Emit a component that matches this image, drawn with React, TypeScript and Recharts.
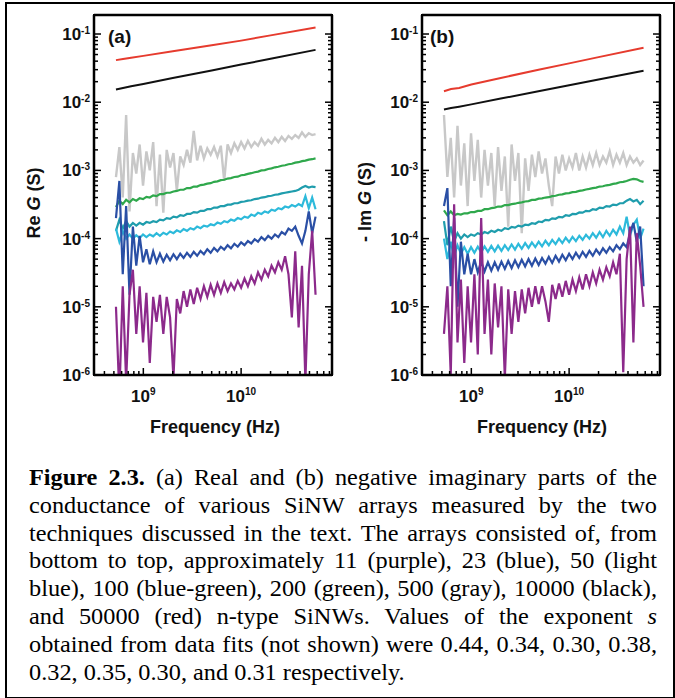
import { Line, LineChart, XAxis, YAxis } from "recharts";

// frequency grid (Hz) shared by the noisy traces
const FREQ = [
  5.25e8, 5.69e8, 6.16e8, 6.67e8, 7.22e8, 7.82e8, 8.47e8, 9.17e8, 9.93e8, 1.075e9,
  1.164e9, 1.261e9, 1.365e9, 1.478e9, 1.601e9, 1.734e9, 1.877e9, 2.033e9, 2.201e9, 2.384e9,
  2.582e9, 2.796e9, 3.027e9, 3.278e9, 3.55e9, 3.845e9, 4.163e9, 4.509e9, 4.882e9, 5.287e9,
  5.726e9, 6.2e9, 6.714e9, 7.271e9, 7.874e9, 8.527e9, 9.234e9, 1.0e10, 1.083e10, 1.173e10,
  1.27e10, 1.375e10, 1.489e10, 1.613e10, 1.746e10, 1.891e10, 2.048e10, 2.218e10, 2.402e10, 2.601e10,
  2.817e10, 3.05e10, 3.303e10, 3.577e10, 3.874e10, 4.195e10, 4.543e10, 4.92e10, 5.328e10, 5.77e10,
];
// coarser grid for the two clean top traces
const FREQ_SMOOTH = [5.25e8, 6.2e8, 7.5e8, 1e9, 2e9, 5e9, 1e10, 2e10, 5.77e10];

// (a) Re G (S)
const RED_A = [0.0414, 0.043, 0.0448, 0.0478, 0.0557, 0.0683, 0.08, 0.0955, 0.125];
const BLACK_A = [0.0154, 0.0162, 0.0171, 0.0185, 0.0226, 0.0292, 0.0356, 0.0433, 0.0585];
const GRAY_A = [
  8e-4, 2.2e-3, 4e-4, 6.5e-3, 2.5e-4, 1.8e-3, 9e-4, 2.4e-3, 6e-4, 1.9e-3,
  1.0e-3, 2.6e-3, 3e-4, 1.7e-3, 2.4e-4, 2.0e-3, 1.1e-3, 1.8e-3, 5e-4, 1.6e-3,
  1.2e-3, 2.0e-3, 1.3e-3, 3.8e-3, 1.4e-3, 2.3e-3, 1.5e-3, 2.1e-3, 1.7e-3, 2.2e-3,
  1.6e-3, 2.3e-3, 7e-4, 2.4e-3, 1.8e-3, 2.5e-3, 2.0e-3, 2.6e-3, 2.1e-3, 2.7e-3,
  2.2e-3, 2.6e-3, 2.3e-3, 2.9e-3, 2.4e-3, 2.8e-3, 2.5e-3, 3.0e-3, 2.6e-3, 3.1e-3,
  2.7e-3, 3.2e-3, 2.9e-3, 3.3e-3, 3.0e-3, 3.6e-3, 3.1e-3, 3.5e-3, 3.3e-3, 3.4e-3,
];
const GREEN_A = [
  2.9e-4, 3.6e-4, 3.2e-4, 3.7e-4, 3.4e-4, 3.8e-4, 3.6e-4, 3.9e-4, 3.8e-4, 4.1e-4,
  4.0e-4, 4.3e-4, 4.2e-4, 4.5e-4, 4.5e-4, 4.7e-4, 4.7e-4, 4.9e-4, 5.0e-4, 5.2e-4,
  5.2e-4, 5.5e-4, 5.5e-4, 5.8e-4, 5.8e-4, 6.1e-4, 6.2e-4, 6.4e-4, 6.5e-4, 6.8e-4,
  6.9e-4, 7.2e-4, 7.3e-4, 7.6e-4, 7.7e-4, 8.0e-4, 8.1e-4, 8.5e-4, 8.6e-4, 8.9e-4,
  9.1e-4, 9.4e-4, 9.6e-4, 1.0e-3, 1.01e-3, 1.05e-3, 1.07e-3, 1.11e-3, 1.13e-3, 1.17e-3,
  1.19e-3, 1.23e-3, 1.25e-3, 1.3e-3, 1.32e-3, 1.37e-3, 1.39e-3, 1.44e-3, 1.46e-3, 1.5e-3,
];
const TEAL_A = [
  1.3e-4, 1.9e-4, 1.4e-4, 1.8e-4, 1.5e-4, 1.7e-4, 1.55e-4, 1.7e-4, 1.6e-4, 1.75e-4,
  1.7e-4, 1.8e-4, 1.75e-4, 1.9e-4, 1.85e-4, 2.0e-4, 1.95e-4, 2.1e-4, 2.05e-4, 2.2e-4,
  2.15e-4, 2.3e-4, 2.3e-4, 2.45e-4, 2.4e-4, 2.55e-4, 2.55e-4, 2.7e-4, 2.7e-4, 2.85e-4,
  2.85e-4, 3.0e-4, 3.0e-4, 3.15e-4, 3.15e-4, 3.3e-4, 3.3e-4, 3.45e-4, 3.5e-4, 3.6e-4,
  3.65e-4, 3.8e-4, 3.85e-4, 4.0e-4, 4.05e-4, 4.2e-4, 4.25e-4, 4.4e-4, 4.45e-4, 4.6e-4,
  4.7e-4, 4.8e-4, 4.9e-4, 5.0e-4, 5.2e-4, 5.6e-4, 5.9e-4, 5.6e-4, 5.8e-4, 5.7e-4,
];
const CYAN_A = [
  1.4e-4, 9e-5, 1.3e-4, 1.0e-4, 1.15e-4, 1.0e-4, 1.12e-4, 1.02e-4, 1.15e-4, 1.05e-4,
  1.15e-4, 1.08e-4, 1.2e-4, 1.1e-4, 1.22e-4, 1.15e-4, 1.27e-4, 1.2e-4, 1.32e-4, 1.25e-4,
  1.38e-4, 1.3e-4, 1.42e-4, 1.36e-4, 1.5e-4, 1.42e-4, 1.55e-4, 1.5e-4, 1.62e-4, 1.57e-4,
  1.72e-4, 1.65e-4, 1.8e-4, 1.74e-4, 1.9e-4, 1.83e-4, 2.0e-4, 1.92e-4, 2.1e-4, 2.02e-4,
  2.25e-4, 2.15e-4, 2.4e-4, 2.3e-4, 2.5e-4, 2.4e-4, 2.65e-4, 2.55e-4, 2.8e-4, 2.7e-4,
  2.95e-4, 2.85e-4, 3.1e-4, 2.95e-4, 3.2e-4, 3.0e-4, 4.2e-4, 2.8e-4, 4.0e-4, 2.7e-4,
];
const BLUE_A = [
  2e-4, 7e-4, 3e-5, 3e-4, 1.5e-5, 1.5e-4, 4e-5, 1.1e-4, 4.5e-5, 7e-5,
  4.2e-5, 6.5e-5, 4.5e-5, 6e-5, 4.6e-5, 5.8e-5, 4.8e-5, 5.9e-5, 5e-5, 6e-5,
  5.2e-5, 6.2e-5, 5.4e-5, 6.4e-5, 5.6e-5, 6.6e-5, 5.9e-5, 7e-5, 6.2e-5, 7.3e-5,
  6.5e-5, 7.6e-5, 6.9e-5, 8e-5, 7.2e-5, 8.4e-5, 7.6e-5, 8.8e-5, 8e-5, 9.2e-5,
  8.5e-5, 9.8e-5, 9e-5, 1.05e-4, 9.5e-5, 1.1e-4, 1.0e-4, 1.15e-4, 1.05e-4, 1.25e-4,
  1.15e-4, 1.4e-4, 1.3e-4, 1.5e-4, 1.1e-4, 8.5e-5, 1.3e-4, 2.5e-4, 1.2e-4, 2.1e-4,
];
const PURPLE_A = [
  1e-5, 5e-7, 2e-5, 8e-7, 1.5e-5, 3.5e-5, 4e-6, 2e-5, 3e-6, 1.6e-5,
  1.5e-6, 1.4e-5, 6e-6, 1.5e-5, 4e-6, 1.4e-5, 7e-6, 9e-7, 1.3e-5, 8e-6,
  1.7e-5, 1e-5, 1.8e-5, 1.1e-5, 1.9e-5, 1.3e-5, 2e-5, 1.4e-5, 2.1e-5, 1.5e-5,
  2.2e-5, 1.6e-5, 2.3e-5, 1.7e-5, 2.2e-5, 1.8e-5, 2.4e-5, 1.9e-5, 2.6e-5, 2e-5,
  2.8e-5, 2.2e-5, 3.2e-5, 2.5e-5, 3.5e-5, 2.8e-5, 4e-5, 3.2e-5, 4.5e-5, 3.5e-5,
  5.5e-5, 3e-5, 7e-6, 6.5e-5, 5e-6, 4e-5, 8e-7, 3e-5, 1.3e-4, 1.5e-5,
];

// (b) -Im G (S)
const RED_B = [0.0145, 0.0156, 0.0162, 0.0182, 0.0227, 0.0301, 0.0371, 0.0458, 0.063];
const BLACK_B = [0.0078, 0.0082, 0.0086, 0.0093, 0.0113, 0.0146, 0.0177, 0.0215, 0.0289];
const GRAY_B = [
  6.5e-3, 8e-4, 3e-3, 4e-4, 4.5e-3, 6e-4, 2.5e-3, 3e-4, 3.5e-3, 7e-4,
  2.8e-3, 4e-4, 2e-3, 6e-4, 1.8e-3, 3e-4, 2.2e-3, 5e-4, 1.6e-3, 1.5e-4,
  2.4e-3, 7e-4, 1.8e-3, 1.2e-4, 1.5e-3, 5e-4, 1.7e-3, 8e-4, 1.9e-3, 9e-4,
  1.5e-3, 6e-4, 3e-4, 1.6e-3, 9e-4, 1.7e-3, 1.0e-3, 1.5e-3, 1.1e-3, 1.8e-3,
  1.0e-3, 1.6e-3, 1.1e-3, 1.7e-3, 1.2e-3, 1.8e-3, 1.2e-3, 1.6e-3, 1.3e-3, 1.9e-3,
  1.2e-3, 1.7e-3, 1.3e-3, 1.8e-3, 1.2e-3, 1.6e-3, 1.3e-3, 1.5e-3, 1.2e-3, 1.4e-3,
];
const GREEN_B = [
  2.6e-4, 2.2e-4, 2.5e-4, 2.2e-4, 2.3e-4, 2.25e-4, 2.35e-4, 2.35e-4, 2.45e-4, 2.45e-4,
  2.55e-4, 2.55e-4, 2.7e-4, 2.7e-4, 2.8e-4, 2.85e-4, 2.95e-4, 2.95e-4, 3.1e-4, 3.1e-4,
  3.2e-4, 3.25e-4, 3.35e-4, 3.4e-4, 3.5e-4, 3.55e-4, 3.7e-4, 3.7e-4, 3.85e-4, 3.9e-4,
  4.0e-4, 4.05e-4, 4.2e-4, 4.25e-4, 4.4e-4, 4.45e-4, 4.6e-4, 4.65e-4, 4.8e-4, 4.85e-4,
  5.0e-4, 5.1e-4, 5.25e-4, 5.35e-4, 5.5e-4, 5.6e-4, 5.8e-4, 5.85e-4, 6.05e-4, 6.15e-4,
  6.35e-4, 6.45e-4, 6.7e-4, 6.8e-4, 7.0e-4, 7.3e-4, 7.5e-4, 7.4e-4, 7.0e-4, 6.8e-4,
];
const TEAL_B = [
  1.8e-4, 8e-5, 1.5e-4, 9e-5, 1.2e-4, 1.0e-4, 1.15e-4, 1.05e-4, 1.15e-4, 1.1e-4,
  1.2e-4, 1.15e-4, 1.25e-4, 1.2e-4, 1.3e-4, 1.25e-4, 1.35e-4, 1.3e-4, 1.42e-4, 1.38e-4,
  1.48e-4, 1.45e-4, 1.55e-4, 1.5e-4, 1.6e-4, 1.58e-4, 1.68e-4, 1.65e-4, 1.78e-4, 1.75e-4,
  1.88e-4, 1.85e-4, 1.98e-4, 1.95e-4, 2.08e-4, 2.05e-4, 2.2e-4, 2.15e-4, 2.3e-4, 2.28e-4,
  2.42e-4, 2.4e-4, 2.55e-4, 2.52e-4, 2.7e-4, 2.65e-4, 2.85e-4, 2.8e-4, 3.0e-4, 2.95e-4,
  3.15e-4, 3.1e-4, 3.3e-4, 3.3e-4, 3.6e-4, 3.8e-4, 3.5e-4, 3.7e-4, 3.2e-4, 3.6e-4,
];
const CYAN_B = [
  1e-4, 5e-5, 9e-5, 5.5e-5, 8e-5, 6e-5, 7.5e-5, 6e-5, 7.5e-5, 6.2e-5,
  7.6e-5, 6.3e-5, 7.7e-5, 6.4e-5, 7.8e-5, 6.5e-5, 7.9e-5, 6.6e-5, 8e-5, 6.8e-5,
  8.2e-5, 6.9e-5, 8.4e-5, 7.1e-5, 8.6e-5, 7.3e-5, 8.8e-5, 7.5e-5, 9e-5, 7.7e-5,
  9.3e-5, 8e-5, 9.6e-5, 8.3e-5, 1.0e-4, 8.6e-5, 1.03e-4, 8.9e-5, 1.06e-4, 9.2e-5,
  1.1e-4, 9.6e-5, 1.14e-4, 1.0e-4, 1.2e-4, 1.03e-4, 1.25e-4, 1.05e-4, 1.3e-4, 1.1e-4,
  1.35e-4, 1.15e-4, 1.5e-4, 1.2e-4, 2.1e-4, 1.1e-4, 1.6e-4, 1.9e-4, 1.0e-4, 1.4e-4,
];
const BLUE_B = [
  3e-4, 5.5e-4, 2e-5, 2e-4, 1e-5, 9e-5, 3e-5, 6e-5, 3e-5, 5e-5,
  3.2e-5, 4.6e-5, 3.3e-5, 4.5e-5, 3.4e-5, 4.5e-5, 3.5e-5, 4.6e-5, 3.6e-5, 4.7e-5,
  3.7e-5, 4.8e-5, 3.8e-5, 4.9e-5, 3.9e-5, 5e-5, 4e-5, 5.1e-5, 4.1e-5, 5.2e-5,
  4.3e-5, 5.4e-5, 4.4e-5, 5.6e-5, 4.6e-5, 5.8e-5, 4.8e-5, 6e-5, 5e-5, 6.2e-5,
  5.2e-5, 6.4e-5, 5.4e-5, 6.6e-5, 5.6e-5, 6.9e-5, 5.9e-5, 7.2e-5, 6.2e-5, 7.5e-5,
  6.5e-5, 8e-5, 7e-5, 8.5e-5, 7.5e-5, 1.2e-4, 1.7e-4, 9e-5, 1.5e-4, 2e-5,
];
const PURPLE_B = [
  4e-6, 2e-5, 1e-6, 3.2e-4, 3e-6, 2.5e-5, 1.5e-6, 2e-5, 3e-6, 3e-5,
  2e-6, 2e-4, 4e-6, 2.5e-5, 2e-6, 2.2e-5, 5e-6, 2e-5, 9e-7, 1.8e-5,
  4e-6, 1.7e-5, 6e-6, 1.8e-5, 8e-6, 1.9e-5, 1e-5, 2e-5, 1.1e-5, 2e-5,
  1.2e-5, 6e-6, 2.1e-5, 1.3e-5, 2.2e-5, 1.4e-5, 2.4e-5, 1.5e-5, 2.5e-5, 1.7e-5,
  2.7e-5, 1.8e-5, 3e-5, 2e-5, 3.2e-5, 2.2e-5, 3.5e-5, 2.5e-5, 3.8e-5, 2.8e-5,
  4.5e-5, 3e-5, 6e-5, 1.1e-6, 5e-5, 1.5e-4, 3e-6, 1.2e-4, 4e-5, 1e-5,
];

// axis ticks
const X_DOMAIN = [3.13e8, 8.5e10];
const Y_DOMAIN = [1e-6, 0.19];
const X_DECADES = [1e8, 1e9, 1e10];
const Y_DECADES = [1e-6, 1e-5, 1e-4, 1e-3, 1e-2, 1e-1];
const MINOR = [1, 2, 3, 4, 5, 6, 7, 8, 9];

const inRange = (d: number[]) => (v: number) => v >= d[0] && v <= d[1];
const X_TICKS = X_DECADES.flatMap((d) => MINOR.map((m) => m * d)).filter(inRange(X_DOMAIN));
const Y_TICKS = Y_DECADES.flatMap((d) => MINOR.map((m) => m * d)).filter(inRange(Y_DOMAIN));

const COLORS = {
  red: "#e63b2e",
  black: "#111111",
  gray: "#c8c8c8",
  green: "#2fa84c",
  teal: "#1f9dad",
  cyan: "#2dbadb",
  blue: "#2a4fa5",
  purple: "#8c2a8b",
};

const FONT = "'Liberation Sans', Arial, Helvetica, sans-serif";

// panel geometry (page pixels)
const CHART_W = 340;
const CHART_H = 440;
const PLOT_TOP = 15;
const PLOT_BOTTOM = 375;
const PLOT_WIDTH = 238;
const FRAME = 2.5;

type Side = "left" | "right" | "top" | "bottom";

function isDecade(v: number) {
  const e = Math.log10(v);
  return Math.abs(e - Math.round(e)) < 1e-6;
}

// inward tick (long on decades) plus the 10^n label on left/bottom
function makeTick(side: Side, labeled: boolean) {
  return (props: any) => {
    const x = Number(props.x);
    const y = Number(props.y);
    const v = props.payload.value as number;
    const major = isDecade(v);
    const len = major ? 7 : 4;
    const exp = String(Math.round(Math.log10(v)));
    let seg = { x1: x, x2: x, y1: y, y2: y };
    if (side === "left") seg = { ...seg, x2: x + len };
    else if (side === "right") seg = { ...seg, x2: x - len };
    else if (side === "top") seg = { ...seg, y2: y + len };
    else seg = { ...seg, y2: y - len };

    let label = null;
    if (labeled && major) {
      const common = { fontSize: 17, fontWeight: "bold", fill: "#111", stroke: "none", fontFamily: FONT };
      if (side === "left") {
        label = (
          <text x={x - 4} y={y + 6} textAnchor="end" {...common}>
            <tspan>10</tspan>
            <tspan dy={-6} fontSize={10}>{exp}</tspan>
          </text>
        );
      } else if (side === "bottom") {
        label = (
          <text x={x} y={y + 27} textAnchor="middle" {...common}>
            <tspan>10</tspan>
            <tspan dy={-7} fontSize={10}>{exp}</tspan>
          </text>
        );
      }
    }
    return (
      <g>
        <line {...seg} stroke="#000" strokeWidth={1.5} />
        {label}
      </g>
    );
  };
}

interface Series {
  color: string;
  width: number;
  freq: number[];
  values: number[];
}

const toRows = (freq: number[], values: number[]) => freq.map((f, i) => ({ f, v: values[i] }));

function Panel({ left, plotLeft, series }: { left: number; plotLeft: number; series: Series[] }) {
  const common = {
    type: "number" as const,
    scale: "log" as const,
    allowDataOverflow: true,
    interval: 0 as const,
    tickSize: 0,
    tickMargin: 0,
    tickLine: false,
    axisLine: { stroke: "#000", strokeWidth: FRAME },
    stroke: "#000",
  };
  return (
    <div style={{ position: "absolute", left, top: 0, width: CHART_W, height: CHART_H }}>
      <LineChart
        width={CHART_W}
        height={CHART_H}
        margin={{ top: PLOT_TOP - 1, right: CHART_W - plotLeft - PLOT_WIDTH - 1, bottom: CHART_H - PLOT_BOTTOM - 1, left: plotLeft - 1 }}
      >
        <XAxis dataKey="f" {...common} domain={X_DOMAIN} ticks={X_TICKS} height={1} tick={makeTick("bottom", true)} />
        <XAxis xAxisId="top" orientation="top" {...common} domain={X_DOMAIN} ticks={X_TICKS} height={1} tick={makeTick("top", false)} />
        <YAxis {...common} domain={Y_DOMAIN} ticks={Y_TICKS} width={1} tick={makeTick("left", true)} />
        <YAxis yAxisId="right" orientation="right" {...common} domain={Y_DOMAIN} ticks={Y_TICKS} width={1} tick={makeTick("right", false)} />
        {series.map((s, i) => (
          <Line
            key={i}
            data={toRows(s.freq, s.values)}
            dataKey="v"
            type="linear"
            stroke={s.color}
            strokeWidth={s.width}
            dot={false}
            activeDot={false}
            isAnimationActive={false}
          />
        ))}
      </LineChart>
      {/* plot frame as an HTML box over the traces */}
      <div
        style={{
          position: "absolute",
          left: plotLeft - FRAME / 2,
          top: PLOT_TOP - FRAME / 2,
          width: PLOT_WIDTH + FRAME,
          height: PLOT_BOTTOM - PLOT_TOP + FRAME,
          boxSizing: "border-box",
          border: `${FRAME}px solid #000`,
          pointerEvents: "none",
        }}
      />
    </div>
  );
}

const SERIES_A: Series[] = [
  { color: COLORS.gray, width: 2.4, freq: FREQ, values: GRAY_A },
  { color: COLORS.red, width: 2, freq: FREQ_SMOOTH, values: RED_A },
  { color: COLORS.black, width: 2, freq: FREQ_SMOOTH, values: BLACK_A },
  { color: COLORS.green, width: 2.2, freq: FREQ, values: GREEN_A },
  { color: COLORS.teal, width: 2.2, freq: FREQ, values: TEAL_A },
  { color: COLORS.cyan, width: 2.2, freq: FREQ, values: CYAN_A },
  { color: COLORS.blue, width: 2.2, freq: FREQ, values: BLUE_A },
  { color: COLORS.purple, width: 2.2, freq: FREQ, values: PURPLE_A },
];

const SERIES_B: Series[] = [
  { color: COLORS.gray, width: 2.4, freq: FREQ, values: GRAY_B },
  { color: COLORS.red, width: 2, freq: FREQ_SMOOTH, values: RED_B },
  { color: COLORS.black, width: 2, freq: FREQ_SMOOTH, values: BLACK_B },
  { color: COLORS.green, width: 2.2, freq: FREQ, values: GREEN_B },
  { color: COLORS.teal, width: 2.2, freq: FREQ, values: TEAL_B },
  { color: COLORS.cyan, width: 2.2, freq: FREQ, values: CYAN_B },
  { color: COLORS.blue, width: 2.2, freq: FREQ, values: BLUE_B },
  { color: COLORS.purple, width: 2.2, freq: FREQ, values: PURPLE_B },
];

const CAPTION = [
  [<b key="b">Figure 2.3.</b>, " (a) Real and (b) negative imaginary parts of the"],
  ["conductance of various SiNW arrays measured by the two"],
  ["techniques discussed in the text. The arrays consisted of,  from"],
  ["bottom to top, approximately 11 (purple), 23 (blue), 50 (light"],
  ["blue), 100 (blue-green), 200 (green), 500 (gray), 10000 (black),"],
  ["and 50000 (red) n-type SiNWs. Values of the exponent ", <i key="s">s</i>],
  ["obtained from data fits (not shown) were 0.44, 0.34, 0.30, 0.38,"],
  ["0.32, 0.35, 0.30, and 0.31 respectively."],
];

const CAPTION_STRETCH = 1.08;

export default function App() {
  return (
    <div style={{ position: "absolute", left: 0, top: 0, width: 675, height: 698, background: "#fff", overflow: "hidden" }}>
      <div
        style={{
          position: "absolute",
          left: 5,
          top: 2,
          width: 670,
          height: 696,
          boxSizing: "border-box",
          borderLeft: "2.5px solid #000",
          borderTop: "2.5px solid #000",
          borderRight: "2px solid #000",
          borderBottom: "1.5px solid #000",
        }}
      />
      <Panel left={0} plotLeft={94} series={SERIES_A} />
      <Panel left={330} plotLeft={92} series={SERIES_B} />
      <svg width={675} height={460} style={{ position: "absolute", left: 0, top: 0, pointerEvents: "none" }}>
        <g fontFamily={FONT} fontWeight="bold" fill="#111">
          <text fontSize={19} x={108} y={43}>(a)</text>
          <text fontSize={19} x={430} y={43}>(b)</text>
          <text fontSize={18} textAnchor="middle" transform="translate(34,203) rotate(-90)" dominantBaseline="central">
            Re <tspan fontStyle="italic">G</tspan> (S)
          </text>
          <text fontSize={18} textAnchor="middle" transform="translate(365,202) rotate(-90)" dominantBaseline="central">
            - Im <tspan fontStyle="italic">G</tspan> (S)
          </text>
          <text fontSize={18} textAnchor="middle" x={215} y={433}>Frequency (Hz)</text>
          <text fontSize={18} textAnchor="middle" x={542} y={433}>Frequency (Hz)</text>
        </g>
      </svg>
      <div
        style={{
          position: "absolute",
          left: 29,
          top: 464,
          width: 628 / CAPTION_STRETCH,
          transform: `scaleX(${CAPTION_STRETCH})`,
          transformOrigin: "0 0",
          fontFamily: "'Liberation Serif', 'Times New Roman', Times, serif",
          fontSize: 22.5,
          lineHeight: "27.8px",
          color: "#000",
        }}
      >
        {CAPTION.map((parts, i) => (
          <div
            key={i}
            style={{
              textAlign: "justify",
              textAlignLast: i === CAPTION.length - 1 ? "left" : "justify",
              whiteSpace: "nowrap",
            }}
          >
            {parts}
          </div>
        ))}
      </div>
    </div>
  );
}
